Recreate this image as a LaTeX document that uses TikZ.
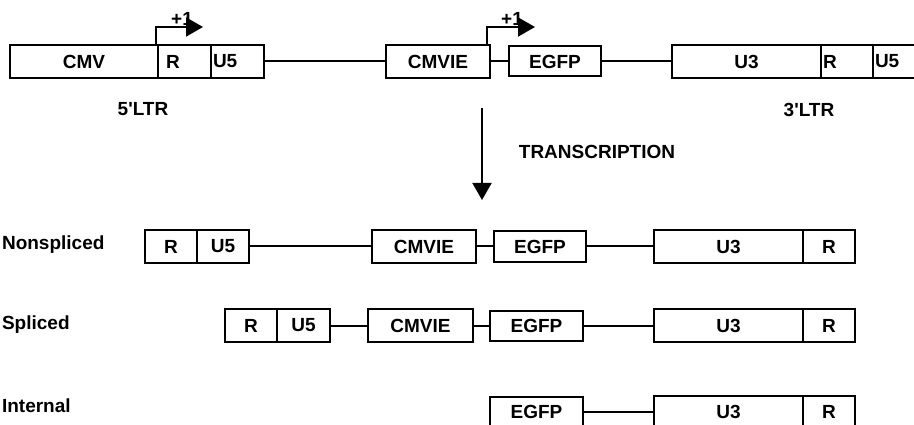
\documentclass[tikz,border=0pt]{standalone}
\usepackage{fontspec}
\setmainfont{Liberation Sans}
\usetikzlibrary{positioning,arrows.meta}

\begin{document}
\begin{tikzpicture}[
                x=1pt, y=-1pt,
                every node/.style={font=\bfseries\fontsize{19}{22}\selectfont},
                seg/.style={draw, line width=2pt, inner sep=0pt, outer sep=0pt, minimum height=33pt},
                segl/.style={seg, align=left, inner xsep=2pt},
                gene/.style={seg, minimum height=30pt},
                link/.style={draw, line width=2pt},
                prom/.style={draw, line width=2pt, -{Triangle[length=17pt,width=19pt]}}
                ]
                \clip (0,0) rectangle (914,425);
                % Provirus
                \node[seg, minimum width=148pt, anchor=north west] (cmv) at (10,45) {CMV};
                \node[segl, inner xsep=8pt, text width=37pt, right=0pt of cmv] (ltrR) {R};
                \node[segl, text width=49pt, right=0pt of ltrR] (ltrU) {U5};
                \node[seg, minimum width=104pt, anchor=north west] (cmvie) at (386,45) {CMVIE};
                \node[gene, minimum width=92pt, right=19pt of cmvie] (egfp) {EGFP};
                \node[seg, minimum width=149pt, right=71pt of egfp] (u3) {U3};
                \node[segl, text width=48pt, right=0pt of u3] (ltrRb) {R};
                \node[segl, text width=49pt, right=0pt of ltrRb] (ltrUb) {U5};
                \draw[link] (ltrU) -- (cmvie);
                \draw[link] (cmvie) -- (egfp);
                \draw[link] (egfp) -- (u3);
                % Start sites
                \node[anchor=base] (plusA) at (182,26) {+1};
                \node[anchor=base] (plusB) at (512,26) {+1};
                \coordinate (tipA) at (203,27);
                \coordinate (tipB) at (535,27);
                \draw[prom] ([xshift=-2pt]cmv.north east) |- (tipA);
                \draw[prom] ([xshift=-3pt]cmvie.north east) |- (tipB);
                \node (ltr5) at (143,109) {5\textquotesingle LTR};
                \node (ltr3) at (809,110) {3\textquotesingle LTR};
                % Transcription
                \coordinate (trA) at (482,108);
                \coordinate (trB) at (482,200);
                \draw[prom] (trA) -- (trB);
                \node (trans) at (597,152) {TRANSCRIPTION};
                % Nonspliced
                \node[anchor=base west] (nonspl) at (-1.5,250) {Nonspliced};
                \node[seg, minimum width=52pt, anchor=north west] (rA) at (145,230) {R};
                \node[seg, minimum width=52pt, right=0pt of rA] (uA) {U5};
                \node[seg, minimum width=104pt, anchor=north west] (cmvieA) at (372,230) {CMVIE};
                \node[gene, minimum width=92pt, right=18pt of cmvieA] (egfpA) {EGFP};
                \node[seg, minimum width=149pt, right=68pt of egfpA] (u3A) {U3};
                \node[seg, minimum width=52pt, right=0pt of u3A] (rAb) {R};
                \draw[link] (uA) -- (cmvieA);
                \draw[link] (cmvieA) -- (egfpA);
                \draw[link] (egfpA) -- (u3A);
                % Spliced
                \node[anchor=base west] (spl) at (-1.5,329) {Spliced};
                \node[seg, minimum width=52pt, anchor=north west] (rB) at (225,309) {R};
                \node[seg, minimum width=53pt, right=0pt of rB] (uB) {U5};
                \node[seg, minimum width=105pt, anchor=north west] (cmvieB) at (368,309) {CMVIE};
                \node[gene, minimum width=93pt, right=17pt of cmvieB] (egfpB) {EGFP};
                \node[seg, minimum width=149pt, right=71pt of egfpB] (u3B) {U3};
                \node[seg, minimum width=52pt, right=0pt of u3B] (rBb) {R};
                \draw[link] (uB) -- (cmvieB);
                \draw[link] (cmvieB) -- (egfpB);
                \draw[link] (egfpB) -- (u3B);
                % Internal
                \node[anchor=base west] (intl) at (-1.5,412) {Internal};
                \node[gene, minimum width=93pt, anchor=west] (egfpC) at (490,412) {EGFP};
                \node[seg, minimum width=149pt, right=71pt of egfpC] (u3C) {U3};
                \node[seg, minimum width=52pt, right=0pt of u3C] (rCb) {R};
                \draw[link] (egfpC) -- (u3C);
\end{tikzpicture}
\end{document}
